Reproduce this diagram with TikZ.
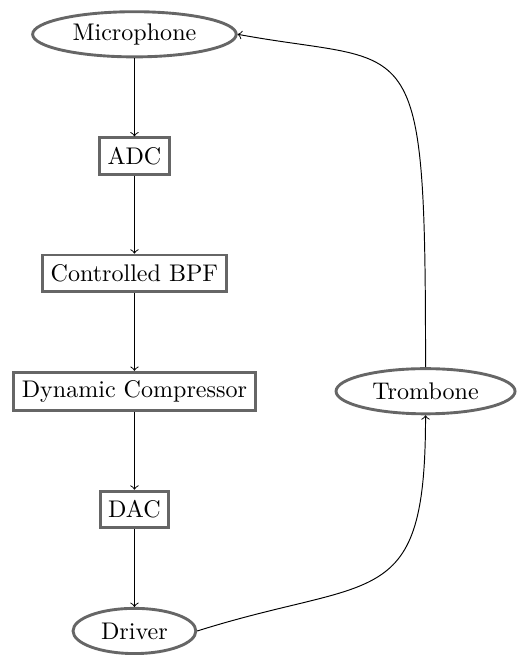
\documentclass[tikz,border=0pt]{standalone}
\usepackage{tikz}
\usetikzlibrary{positioning,shapes.geometric,calc}

\begin{document}
\begin{tikzpicture}[
  blk/.style={draw=black!60, line width=1.2pt, minimum height=0.53cm},
  ell/.style={ellipse, draw=black!60, line width=1.2pt, inner xsep=4.2pt, inner ysep=1pt, minimum height=0.66cm},
  arr/.style={->}
]
\node[ell] (mic) {Microphone};
\node[blk, below=1.14cm of mic] (adc) {ADC};
\node[blk, below=1.14cm of adc] (bpf) {Controlled BPF};
\node[blk, below=1.14cm of bpf] (comp) {Dynamic Compressor};
\node[blk, below=1.14cm of comp] (dac) {DAC};
\node[ell, below=1.14cm of dac] (drv) {Driver};
\node[ell, right=1.14cm of comp] (tromb) {Trombone};
\draw[arr] (mic) -- (adc);
\draw[arr] (adc) -- (bpf);
\draw[arr] (bpf) -- (comp);
\draw[arr] (comp) -- (dac);
\draw[arr] (dac) -- (drv);
\draw[arr] (tromb.north) .. controls +(0,5.1) and +(2.6,-0.48) .. (mic.east);
\draw[arr] (drv.east) .. controls +(2.6,0.82) and +(0,-2.9) .. (tromb.south);
% frame
\pgfresetboundingbox
\useasboundingbox ($(comp.west |- mic.north)+(-0.18,0.15)$) rectangle (tromb.east |- drv.south);
\end{tikzpicture}
\end{document}
